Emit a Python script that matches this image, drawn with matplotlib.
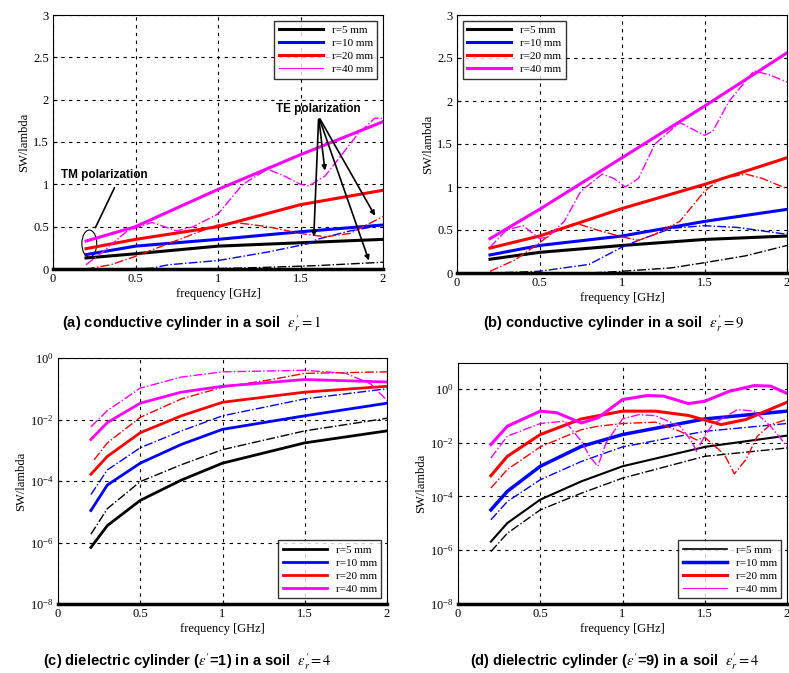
import matplotlib
matplotlib.use('Agg')
import matplotlib.pyplot as plt
from matplotlib.patches import Ellipse
import numpy as np

plt.rcParams['font.family'] = ['Liberation Serif', 'DejaVu Serif']
plt.rcParams['mathtext.fontset'] = 'stix'

labels = ['r=5 mm', 'r=10 mm', 'r=20 mm', 'r=40 mm']
colors = ['black', 'blue', 'red', 'magenta']

# (a) conductive cylinder, soil eps'=1 ; TM solid, TE dash-dot
fa = [0.2, 0.5, 1.0, 1.5, 2.0]
a_tm = [[0.13, 0.18, 0.27, 0.31, 0.35],
        [0.17, 0.27, 0.35, 0.44, 0.52],
        [0.24, 0.35, 0.50, 0.76, 0.93],
        [0.33, 0.50, 0.94, 1.35, 1.74]]
a_te_f = [[0.2, 0.6, 1.0, 1.3, 1.6, 1.8, 2.0],
          [0.2, 0.4, 0.6, 0.7, 1.0, 1.3, 1.55, 1.6, 1.8, 2.0],
          [0.2, 0.35, 0.5, 0.7, 0.9, 1.0, 1.1, 1.3, 1.5, 1.65, 1.8, 2.0],
          [0.2, 0.3, 0.45, 0.6, 0.75, 0.85, 1.0, 1.15, 1.3, 1.4, 1.5, 1.55, 1.65, 1.75, 1.85, 1.95, 2.0]]
a_te = [[0.0, 0.0, 0.005, 0.02, 0.04, 0.06, 0.08],
        [0.0, 0.0, 0.01, 0.05, 0.10, 0.20, 0.30, 0.35, 0.45, 0.52],
        [0.0, 0.05, 0.15, 0.30, 0.45, 0.52, 0.55, 0.50, 0.42, 0.38, 0.42, 0.62],
        [0.05, 0.20, 0.45, 0.55, 0.45, 0.50, 0.65, 1.00, 1.18, 1.10, 1.00, 0.98, 1.10, 1.35, 1.60, 1.78, 1.78]]

# (b) conductive cylinder, soil eps'=9
b_tm = [[0.16, 0.24, 0.32, 0.39, 0.43],
        [0.21, 0.32, 0.43, 0.60, 0.74],
        [0.29, 0.43, 0.75, 1.03, 1.34],
        [0.40, 0.74, 1.34, 1.94, 2.56]]
b_te_f = [[0.2, 0.8, 1.0, 1.3, 1.5, 1.75, 2.0],
          [0.2, 0.5, 0.8, 1.0, 1.1, 1.2, 1.3, 1.5, 1.7, 2.0],
          [0.2, 0.35, 0.5, 0.6, 0.72, 0.85, 1.0, 1.1, 1.2, 1.35, 1.5, 1.6, 1.75, 1.85, 2.0],
          [0.2, 0.3, 0.4, 0.5, 0.55, 0.65, 0.75, 0.88, 0.95, 1.02, 1.1, 1.2, 1.35, 1.4, 1.5, 1.55, 1.65, 1.8, 1.9, 2.0]]
b_te = [[0.0, 0.0, 0.02, 0.06, 0.12, 0.20, 0.32],
        [0.0, 0.02, 0.10, 0.30, 0.38, 0.45, 0.52, 0.55, 0.53, 0.45],
        [0.02, 0.15, 0.35, 0.50, 0.58, 0.50, 0.42, 0.38, 0.45, 0.60, 0.95, 1.10, 1.15, 1.10, 0.98],
        [0.30, 0.50, 0.55, 0.40, 0.42, 0.60, 0.95, 1.15, 1.10, 1.00, 1.10, 1.50, 1.75, 1.70, 1.60, 1.65, 2.00, 2.35, 2.30, 2.22]]

# (c) dielectric cylinder eps'=1, soil eps'=4 (log10 values)
fc = [0.2, 0.3, 0.5, 0.75, 1.0, 1.5, 2.0]
c_tm = [[-6.16, -5.45, -4.63, -3.97, -3.42, -2.76, -2.37],
        [-4.96, -4.13, -3.42, -2.81, -2.32, -1.88, -1.47],
        [-3.78, -3.20, -2.43, -1.88, -1.44, -1.11, -0.92],
        [-2.65, -2.10, -1.47, -1.11, -0.92, -0.70, -0.78]]
c_te_f = [[0.2, 0.3, 0.5, 0.75, 1.0, 1.5, 2.0],
          [0.2, 0.3, 0.5, 0.75, 1.0, 1.5, 2.0],
          [0.22, 0.3, 0.5, 0.75, 1.0, 1.3, 1.5, 2.0],
          [0.2, 0.3, 0.5, 0.75, 1.0, 1.5, 1.75, 1.9, 2.0]]
c_te = [[-5.73, -4.90, -4.02, -3.47, -2.98, -2.37, -1.96],
        [-4.44, -3.64, -2.92, -2.37, -1.88, -1.33, -1.00],
        [-3.31, -2.76, -1.93, -1.33, -0.95, -0.70, -0.50, -0.45],
        [-2.24, -1.71, -0.98, -0.62, -0.45, -0.40, -0.50, -0.84, -1.38]]

# (d) dielectric cylinder eps'=9, soil eps'=4 (log10 values)
d_tm_f = [[0.2, 0.3, 0.5, 0.75, 1.0, 1.5, 2.0],
          [0.2, 0.3, 0.5, 0.75, 1.0, 1.5, 2.0],
          [0.2, 0.3, 0.5, 0.75, 1.0, 1.2, 1.4, 1.6, 1.75, 2.0],
          [0.2, 0.3, 0.5, 0.6, 0.75, 0.85, 1.0, 1.15, 1.25, 1.4, 1.5, 1.65, 1.8, 1.9, 2.0]]
d_tm = [[-5.68, -4.99, -4.12, -3.44, -2.88, -2.16, -1.74],
        [-4.50, -3.81, -2.88, -2.14, -1.70, -1.12, -0.83],
        [-3.23, -2.51, -1.70, -1.12, -0.83, -0.83, -0.99, -1.33, -1.14, -0.50],
        [-2.07, -1.39, -0.83, -0.89, -1.27, -1.08, -0.40, -0.25, -0.27, -0.55, -0.46, -0.09, 0.12, 0.10, -0.17]]
d_te_f = [[0.2, 0.3, 0.5, 0.75, 1.0, 1.5, 2.0],
          [0.2, 0.3, 0.5, 0.75, 1.0, 1.5, 2.0],
          [0.2, 0.3, 0.5, 0.75, 0.85, 1.0, 1.2, 1.35, 1.45, 1.5, 1.55, 1.62, 1.68, 1.75, 1.82, 1.9, 2.0],
          [0.2, 0.3, 0.5, 0.65, 0.75, 0.8, 0.85, 0.9, 1.0, 1.1, 1.2, 1.35, 1.42, 1.45, 1.5, 1.55, 1.7, 1.8, 1.9, 1.95, 2.0]]
d_te = [[-6.05, -5.37, -4.50, -3.88, -3.32, -2.51, -2.20],
        [-4.87, -4.19, -3.38, -2.70, -2.16, -1.58, -1.29],
        [-3.69, -3.00, -2.16, -1.52, -1.39, -1.29, -1.24, -1.58, -1.90, -1.80, -2.07, -2.45, -3.16, -2.63, -1.76, -1.33, -1.14],
        [-2.57, -1.76, -1.29, -1.20, -1.95, -2.51, -2.88, -2.01, -1.12, -0.96, -1.00, -1.39, -1.95, -2.32, -1.76, -1.30, -0.77, -0.83, -1.39, -1.76, -2.14]]

W, H = 789, 673
fig = plt.figure(figsize=(W / 100, H / 100), dpi=100)


def px_axes(x0, y0, x1, y1):
    return fig.add_axes([x0 / W, 1 - y1 / H, (x1 - x0) / W, (y1 - y0) / H])


def style(ax, log=False):
    ax.set_xlim(0, 2)
    ax.set_xticks([0, 0.5, 1, 1.5, 2])
    ax.set_xticklabels(['0', '0.5', '1', '1.5', '2'])
    ax.grid(True, color='black', linestyle=(0, (3, 4)), linewidth=0.8)
    ax.tick_params(labelsize=9, direction='in', length=3, pad=3)
    ax.set_xlabel('frequency [GHz]', fontsize=9, labelpad=2)
    ax.set_ylabel('SW/lambda', fontsize=9, labelpad=2)
    ax.spines['bottom'].set_linewidth(2.5)
    for s in ['top', 'right', 'left']:
        ax.spines[s].set_linewidth(0.8)


def draw(ax, f_tm, tm, f_te, te, lws_tm, log=False):
    for i in range(4):
        ftm = f_tm[i] if isinstance(f_tm[0], list) else f_tm
        ytm = np.power(10.0, tm[i]) if log else tm[i]
        yte = np.power(10.0, te[i]) if log else te[i]
        ax.plot(ftm, ytm, color=colors[i], lw=lws_tm[i], label=labels[i])
        ax.plot(f_te[i], yte, color=colors[i], lw=1.0, linestyle='-.')


# (a)
ax = px_axes(53, 15, 383, 269)
draw(ax, fa, a_tm, a_te_f, a_te, [2.2, 2.2, 2.2, 2.2])
style(ax)
ax.set_ylim(0, 3)
ax.set_yticks([0, 0.5, 1, 1.5, 2, 2.5, 3])
ax.set_yticklabels(['0', '0.5', '1', '1.5', '2', '2.5', '3'])
leg = ax.legend(loc='upper right', fontsize=8, frameon=True, fancybox=False,
                edgecolor='black', handlelength=4, borderpad=0.4, labelspacing=0.3)
leg.legend_handles[3].set_linewidth(0.8)
ax.text(0.05, 1.07, 'TM polarization', fontsize=8.5, fontweight='bold', family='Liberation Sans')
ax.annotate('', xy=(0.25, 0.46), xytext=(0.38, 0.99),
            arrowprops=dict(arrowstyle='-', color='black', lw=1.2))
ax.add_patch(Ellipse((0.22, 0.3), 0.09, 0.32, fill=False, edgecolor='black', lw=0.8))
ax.text(1.35, 1.85, 'TE polarization', fontsize=8.5, fontweight='bold', family='Liberation Sans')
for tx, ty in [(1.58, 0.35), (1.65, 1.13), (1.92, 0.07), (1.96, 0.6)]:
    ax.annotate('', xy=(tx, ty), xytext=(1.61, 1.8),
                arrowprops=dict(arrowstyle='-|>', color='black', lw=1.2, mutation_scale=7))

# (b)
ax = px_axes(457, 15, 787, 273)
draw(ax, fa, b_tm, b_te_f, b_te, [2.2, 2.2, 2.2, 2.2])
style(ax)
ax.set_ylim(0, 3)
ax.set_yticks([0, 0.5, 1, 1.5, 2, 2.5, 3])
ax.set_yticklabels(['0', '0.5', '1', '1.5', '2', '2.5', '3'])
ax.legend(loc='upper left', fontsize=8, frameon=True, fancybox=False,
          edgecolor='black', handlelength=4, borderpad=0.4, labelspacing=0.3)

# (c)
ax = px_axes(58, 358, 387, 604)
draw(ax, fc, c_tm, c_te_f, c_te, [2.0, 2.0, 2.0, 2.0], log=True)
ax.set_yscale('log')
style(ax)
ax.set_ylim(1e-8, 1e0)
ax.set_yticks([1e-8, 1e-6, 1e-4, 1e-2, 1e0])
ax.minorticks_off()
ax.legend(loc='lower right', fontsize=8, frameon=True, fancybox=False,
          edgecolor='black', handlelength=4, borderpad=0.4, labelspacing=0.3)

# (d)
ax = px_axes(458, 363, 787, 604)
draw(ax, d_tm_f, d_tm, d_te_f, d_te, [1.5, 2.5, 2.2, 2.2], log=True)
ax.set_yscale('log')
style(ax)
ax.set_ylim(1e-8, 10 ** 0.96)
ax.set_yticks([1e-8, 1e-6, 1e-4, 1e-2, 1e0])
ax.minorticks_off()
leg = ax.legend(loc='lower right', fontsize=8, frameon=True, fancybox=False,
                edgecolor='black', handlelength=4, borderpad=0.4, labelspacing=0.3)
leg.legend_handles[0].set_linewidth(1.2)
leg.legend_handles[3].set_linewidth(0.8)

# captions
cap = dict(fontsize=10.5, fontweight='bold', family='Liberation Sans', va='center', ha='left')
fig.text(62 / W, 1 - 324 / H, r"(a) conductive cylinder in a soil  $\varepsilon_r'=1$", **cap)
fig.text(483 / W, 1 - 324 / H, r"(b) conductive cylinder in a soil  $\varepsilon_r'=9$", **cap)
fig.text(43 / W, 1 - 662 / H, r"(c) dielectric cylinder ($\varepsilon'$=1) in a soil  $\varepsilon_r'=4$", **cap)
fig.text(470 / W, 1 - 662 / H, r"(d) dielectric cylinder ($\varepsilon'$=9) in a soil  $\varepsilon_r'=4$", **cap)

fig.savefig('out.png', dpi=100)
